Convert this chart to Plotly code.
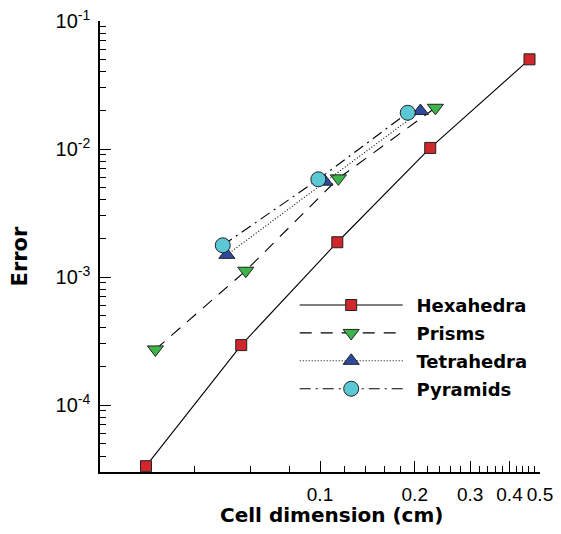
import plotly.graph_objects as go
import numpy as np

# Data
hex_x = [0.028, 0.0562, 0.1135, 0.224, 0.463]
hex_y = [3.33e-5, 2.94e-4, 1.87e-3, 1.02e-2, 5.02e-2]
prism_x = [0.030, 0.0581, 0.1144, 0.2326]
prism_y = [2.72e-4, 1.12e-3, 5.9e-3, 2.1e-2]
tet_x = [0.0506, 0.1037, 0.2085]
tet_y = [1.49e-3, 5.56e-3, 1.98e-2]
pyr_x = [0.0491, 0.0988, 0.190]
pyr_y = [1.77e-3, 5.8e-3, 1.92e-2]

x_major = [0.1, 0.2, 0.3, 0.4, 0.5]
x_major_labels = ["0.1", "0.2", "0.3", "0.4", "0.5"]
x_minor = [0.04, 0.06, 0.08, 0.12, 0.14, 0.16, 0.18, 0.22, 0.24, 0.26, 0.28,
           0.32, 0.34, 0.36, 0.38, 0.42, 0.44, 0.46, 0.48]
y_major = [1e-4, 1e-3, 1e-2, 1e-1]
y_major_labels = ["10<sup>-4</sup>", "10<sup>-3</sup>", "10<sup>-2</sup>", "10<sup>-1</sup>"]
y_minor = [k * 10.0**e for e in range(-5, -1) for k in range(2, 10) if 3e-5 <= k * 10.0**e <= 1e-1]
x_title = "Cell dimension (cm)"
y_title = "Error"

TICKFONT = "Liberation Sans, Arial, sans-serif"
BOLDFONT = "DejaVu Sans, Liberation Sans, sans-serif"
NB = "\u00a0\u2006"

fig = go.Figure()
fig.add_trace(go.Scatter(x=hex_x, y=hex_y, name=NB + "<b>Hexahedra</b>", mode="lines+markers",
                         legendgroup="a",
                         line=dict(color="black", width=1.1, dash="solid"),
                         marker=dict(symbol="square", size=11, color="#D0262C",
                                     line=dict(color="#222", width=1))))
fig.add_trace(go.Scatter(x=prism_x, y=prism_y, name=NB + "<b>Prisms</b>", mode="lines+markers",
                         legendgroup="b",
                         line=dict(color="black", width=1.1, dash="12px,9px"),
                         marker=dict(symbol="triangle-down", size=14, color="#3DB54A",
                                     line=dict(color="#222", width=1))))
fig.add_trace(go.Scatter(x=tet_x, y=tet_y, name=NB + "<b>Tetrahedra</b>", mode="lines+markers",
                         legendgroup="c",
                         line=dict(color="black", width=1.1, dash="1px,2px"),
                         marker=dict(symbol="triangle-up", size=14, color="#2E4A9E",
                                     line=dict(color="#222", width=1))))
fig.add_trace(go.Scatter(x=pyr_x, y=pyr_y, name=NB + "<b>Pyramids</b>", mode="lines+markers",
                         legendgroup="d",
                         line=dict(color="black", width=1.1, dash="11px,5px,2px,5px"),
                         marker=dict(symbol="circle", size=15, color="#5BC8D5",
                                     line=dict(color="#222", width=1))))

# The page adds an 8px body margin, so the figure is sized to fill the rest of the window.
fig.update_layout(
    width=553, height=526,
    margin=dict(l=92, r=21, t=13, b=62),
    plot_bgcolor="white", paper_bgcolor="white",
    font=dict(family=TICKFONT, size=19, color="black"),
    showlegend=True,
    legend=dict(x=0.4425, y=0.4106, xanchor="left", yanchor="top",
                bgcolor="rgba(0,0,0,0)", itemwidth=103,
                font=dict(family=BOLDFONT, size=18, color="black"),
                tracegroupgap=1.5, itemsizing="trace"),
    annotations=[
        dict(text="<b>" + x_title + "</b>", xref="paper", yref="paper",
             x=0.527, y=-0.0948, xanchor="center", yanchor="middle", showarrow=False,
             font=dict(family=BOLDFONT, size=20, color="black")),
        dict(text="<b>" + y_title + "</b>", xref="paper", yref="paper",
             x=-0.183, y=0.479, xanchor="center", yanchor="middle", showarrow=False,
             textangle=-90, font=dict(family=BOLDFONT, size=21, color="black")),
    ],
)
fig.update_xaxes(
    type="log", range=[np.log10(0.02), np.log10(0.5)], automargin=False,
    showline=True, linecolor="black", linewidth=1.5, mirror=False,
    showgrid=False, zeroline=False,
    tickmode="array", tickvals=x_major, ticktext=x_major_labels,
    ticks="inside", ticklen=11, tickwidth=1.3, tickcolor="black",
    tickfont=dict(family=TICKFONT, size=19), ticklabelstandoff=4,
    ticklabeloverflow="allow",
    minor=dict(tickmode="array", tickvals=x_minor, ticks="inside", ticklen=6,
               tickwidth=1.1, tickcolor="black", showgrid=False),
)
fig.update_yaxes(
    type="log", range=[np.log10(3e-5), -1], automargin=False,
    showline=True, linecolor="black", linewidth=1.5, mirror=False,
    showgrid=False, zeroline=False,
    tickmode="array", tickvals=y_major, ticktext=y_major_labels,
    ticks="inside", ticklen=11, tickwidth=1.3, tickcolor="black",
    tickfont=dict(family=TICKFONT, size=20), ticklabelstandoff=4,
    ticklabeloverflow="allow",
    minor=dict(tickmode="array", tickvals=y_minor, ticks="inside", ticklen=6,
               tickwidth=1.1, tickcolor="black", showgrid=False),
)

fig.write_html("out.html")
